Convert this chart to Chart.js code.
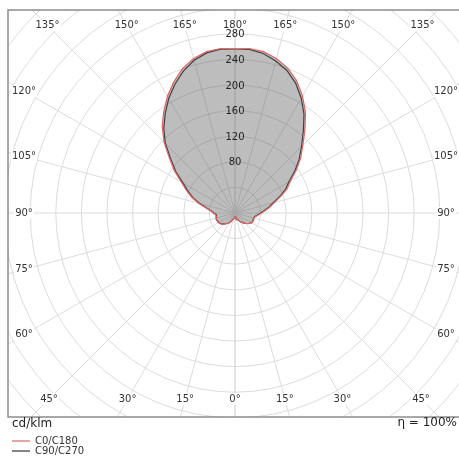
<!DOCTYPE html>
<html>
<head>
<meta charset="utf-8">
<script src="https://cdn.jsdelivr.net/npm/chart.js@4"></script>
<style>
  html, body { margin: 0; padding: 0; background: #fff; }
  #wrap { position: relative; width: 459px; height: 456px; }
</style>
</head>
<body>
<div id="wrap"><canvas id="myChart"></canvas></div>
<script>
// gamma angles (0 = down, 180 = up), cd/klm
const gammaAngles = [0, 5, 10, 15, 20, 25, 30, 35, 40, 45, 50, 55, 60, 65, 70, 75, 80, 85, 90,
  95, 100, 105, 110, 115, 120, 125, 130, 135, 140, 145, 150, 155, 160, 165, 170, 175, 180];

const c0Values = [5, 6, 7.5, 9, 10.5, 12, 15, 17.5, 20, 23, 26, 28.5, 30.5, 31, 30.5, 30.5, 32.5, 36.5, 41.5,
  48, 56, 64, 76, 90, 100, 117, 134, 150, 170, 192, 211, 228, 241, 250, 256, 258, 256];
const c180Values = [5, 6, 8, 9.5, 11.5, 14.5, 17, 19.5, 21.5, 24, 27, 28.8, 30, 30.5, 31, 30.5, 30, 30.5, 34,
  38, 46, 59, 72, 84, 97, 116, 134, 157, 177, 194, 211, 226, 240, 250, 256, 258, 256];
const c90Values = [5, 6, 7.5, 9, 10.5, 12, 15, 17.5, 20, 23, 25.5, 28, 30, 30.5, 30, 30, 31.5, 35, 40,
  46, 54, 62, 74, 87, 97, 114, 131, 147, 166, 188, 207, 224, 237, 246, 253, 256.5, 256];
const c270Values = [5, 6, 8, 9.5, 11.5, 14.5, 17, 19.5, 21.5, 24, 26.5, 28.3, 29.5, 30, 30.5, 30, 29.5, 29.5, 33,
  37, 45, 57, 70, 81, 94, 113, 131, 154, 173, 190, 207, 222, 236, 247, 254, 257, 256];

const ringValues = [40, 80, 120, 160, 200, 240, 280, 320, 360, 400, 440, 480, 520];
const ringLabels = [80, 120, 160, 200, 240, 280];
const spokeAngles = [0, 15, 30, 45, 60, 75, 90, 105, 120, 135, 150, 165, 180];

const seriesNames = ["C0/C180", "C90/C270"];
const unitLabel = "cd/klm";
const efficiencyLabel = "η = 100%";

function toPoints(rightVals, leftVals) {
  const pts = [];
  gammaAngles.forEach((a, i) => {
    const t = a * Math.PI / 180;
    pts.push({ x: rightVals[i] * Math.sin(t), y: -rightVals[i] * Math.cos(t) });
  });
  for (let i = gammaAngles.length - 1; i >= 0; i--) {
    const t = gammaAngles[i] * Math.PI / 180;
    pts.push({ x: -leftVals[i] * Math.sin(t), y: -leftVals[i] * Math.cos(t) });
  }
  return pts;
}

const FONT = "DejaVu Sans, sans-serif";

const polarGrid = {
  id: "polarGrid",
  beforeDraw(chart) {
    const { ctx, chartArea: area, scales } = chart;
    const cx = scales.x.getPixelForValue(0);
    const cy = scales.y.getPixelForValue(0);
    const k = scales.x.getPixelForValue(100) / 100 - cx / 100;
    ctx.save();
    ctx.fillStyle = "#fff";
    ctx.fillRect(0, 0, chart.width, chart.height);
    ctx.beginPath();
    ctx.rect(area.left, area.top, area.right - area.left, area.bottom - area.top);
    ctx.clip();
    ctx.strokeStyle = "#dcdcdc";
    ctx.lineWidth = 1;
    ringValues.forEach((v) => {
      ctx.beginPath();
      ctx.arc(cx, cy, v * k, 0, Math.PI * 2);
      ctx.stroke();
    });
    spokeAngles.forEach((a) => {
      const t = a * Math.PI / 180;
      [1, -1].forEach((s) => {
        ctx.beginPath();
        ctx.moveTo(cx, cy);
        ctx.lineTo(cx + s * 700 * Math.sin(t), cy + 700 * Math.cos(t));
        ctx.stroke();
      });
    });
    ctx.restore();
  },
  afterDraw(chart) {
    const { ctx, chartArea: area, scales } = chart;
    const cx = scales.x.getPixelForValue(0);
    const cy = scales.y.getPixelForValue(0);
    const k = scales.x.getPixelForValue(100) / 100 - cx / 100;
    ctx.save();
    // frame
    ctx.strokeStyle = "#8c8c8c";
    ctx.lineWidth = 1.5;
    ctx.strokeRect(area.left, area.top, area.right - area.left + 10, area.bottom - area.top);

    // angle labels along the spokes
    ctx.font = "10px " + FONT;
    ctx.textAlign = "center";
    ctx.textBaseline = "middle";
    const halfW = cx - (area.left + 16);
    const hTop = cy - (area.top + 15.5);
    const hBot = (area.bottom - 18) - cy;
    spokeAngles.forEach((a) => {
      const t = a * Math.PI / 180;
      const sides = (a === 0 || a === 180) ? [1] : [1, -1];
      sides.forEach((s) => {
        const dx = s * Math.sin(t);
        const dy = Math.cos(t);
        let d = Infinity;
        if (Math.abs(dx) > 1e-6) d = Math.min(d, halfW / Math.abs(dx));
        if (Math.abs(dy) > 1e-6) d = Math.min(d, (dy > 0 ? hBot : hTop) / Math.abs(dy));
        const x = cx + dx * d;
        const y = cy + dy * d;
        const txt = a + "°";
        const w = ctx.measureText(txt).width;
        ctx.fillStyle = "#fff";
        ctx.fillRect(x - w / 2 - 1, y - 6, w + 2, 12);
        ctx.fillStyle = "#333";
        ctx.fillText(txt, x, y);
      });
    });

    // ring values
    ringLabels.forEach((v) => {
      ctx.fillStyle = "#222";
      ctx.fillText(String(v), cx, cy - v * k + 1);
    });

    // footer
    ctx.font = "12px " + FONT;
    ctx.fillStyle = "#222";
    ctx.textAlign = "left";
    ctx.fillText(unitLabel, 12, area.bottom + 7);
    ctx.textAlign = "right";
    ctx.fillText(efficiencyLabel, 457, area.bottom + 6);

    // legend
    ctx.font = "10px " + FONT;
    ctx.textAlign = "left";
    chart.data.datasets.forEach((ds, i) => {
      const y = area.bottom + 24 + i * 10;
      ctx.strokeStyle = ds.borderColor;
      ctx.lineWidth = 1.2;
      ctx.beginPath();
      ctx.moveTo(12, y);
      ctx.lineTo(30, y);
      ctx.stroke();
      ctx.fillStyle = "#333";
      ctx.fillText(ds.label, 35, y);
    });
    ctx.restore();
  }
};

const ctx = document.getElementById("myChart");

new Chart(ctx, {
  type: "scatter",
  data: {
    datasets: [
      {
        label: seriesNames[0],
        data: toPoints(c0Values, c180Values),
        showLine: true,
        borderColor: "#e06666",
        borderWidth: 1.2,
        pointRadius: 0,
        fill: "shape",
        backgroundColor: "rgba(90,90,90,0.4)",
        tension: 0,
      },
      {
        label: seriesNames[1],
        data: toPoints(c90Values, c270Values),
        showLine: true,
        borderColor: "#333333",
        borderWidth: 1.2,
        pointRadius: 0,
        fill: false,
        tension: 0,
      },
    ],
  },
  options: {
    responsive: true,
    maintainAspectRatio: false,
    animation: false,
    layout: { padding: { left: 8, top: 10, right: 0, bottom: 39 } },
    scales: {
      x: { type: "linear", display: false, min: -354.6875, max: 350 },
      y: { type: "linear", display: false, min: -318.75, max: 317.1875 },
    },
    plugins: {
      legend: { display: false },
      tooltip: { enabled: false },
    },
  },
  plugins: [polarGrid],
});
</script>
</body>
</html>
